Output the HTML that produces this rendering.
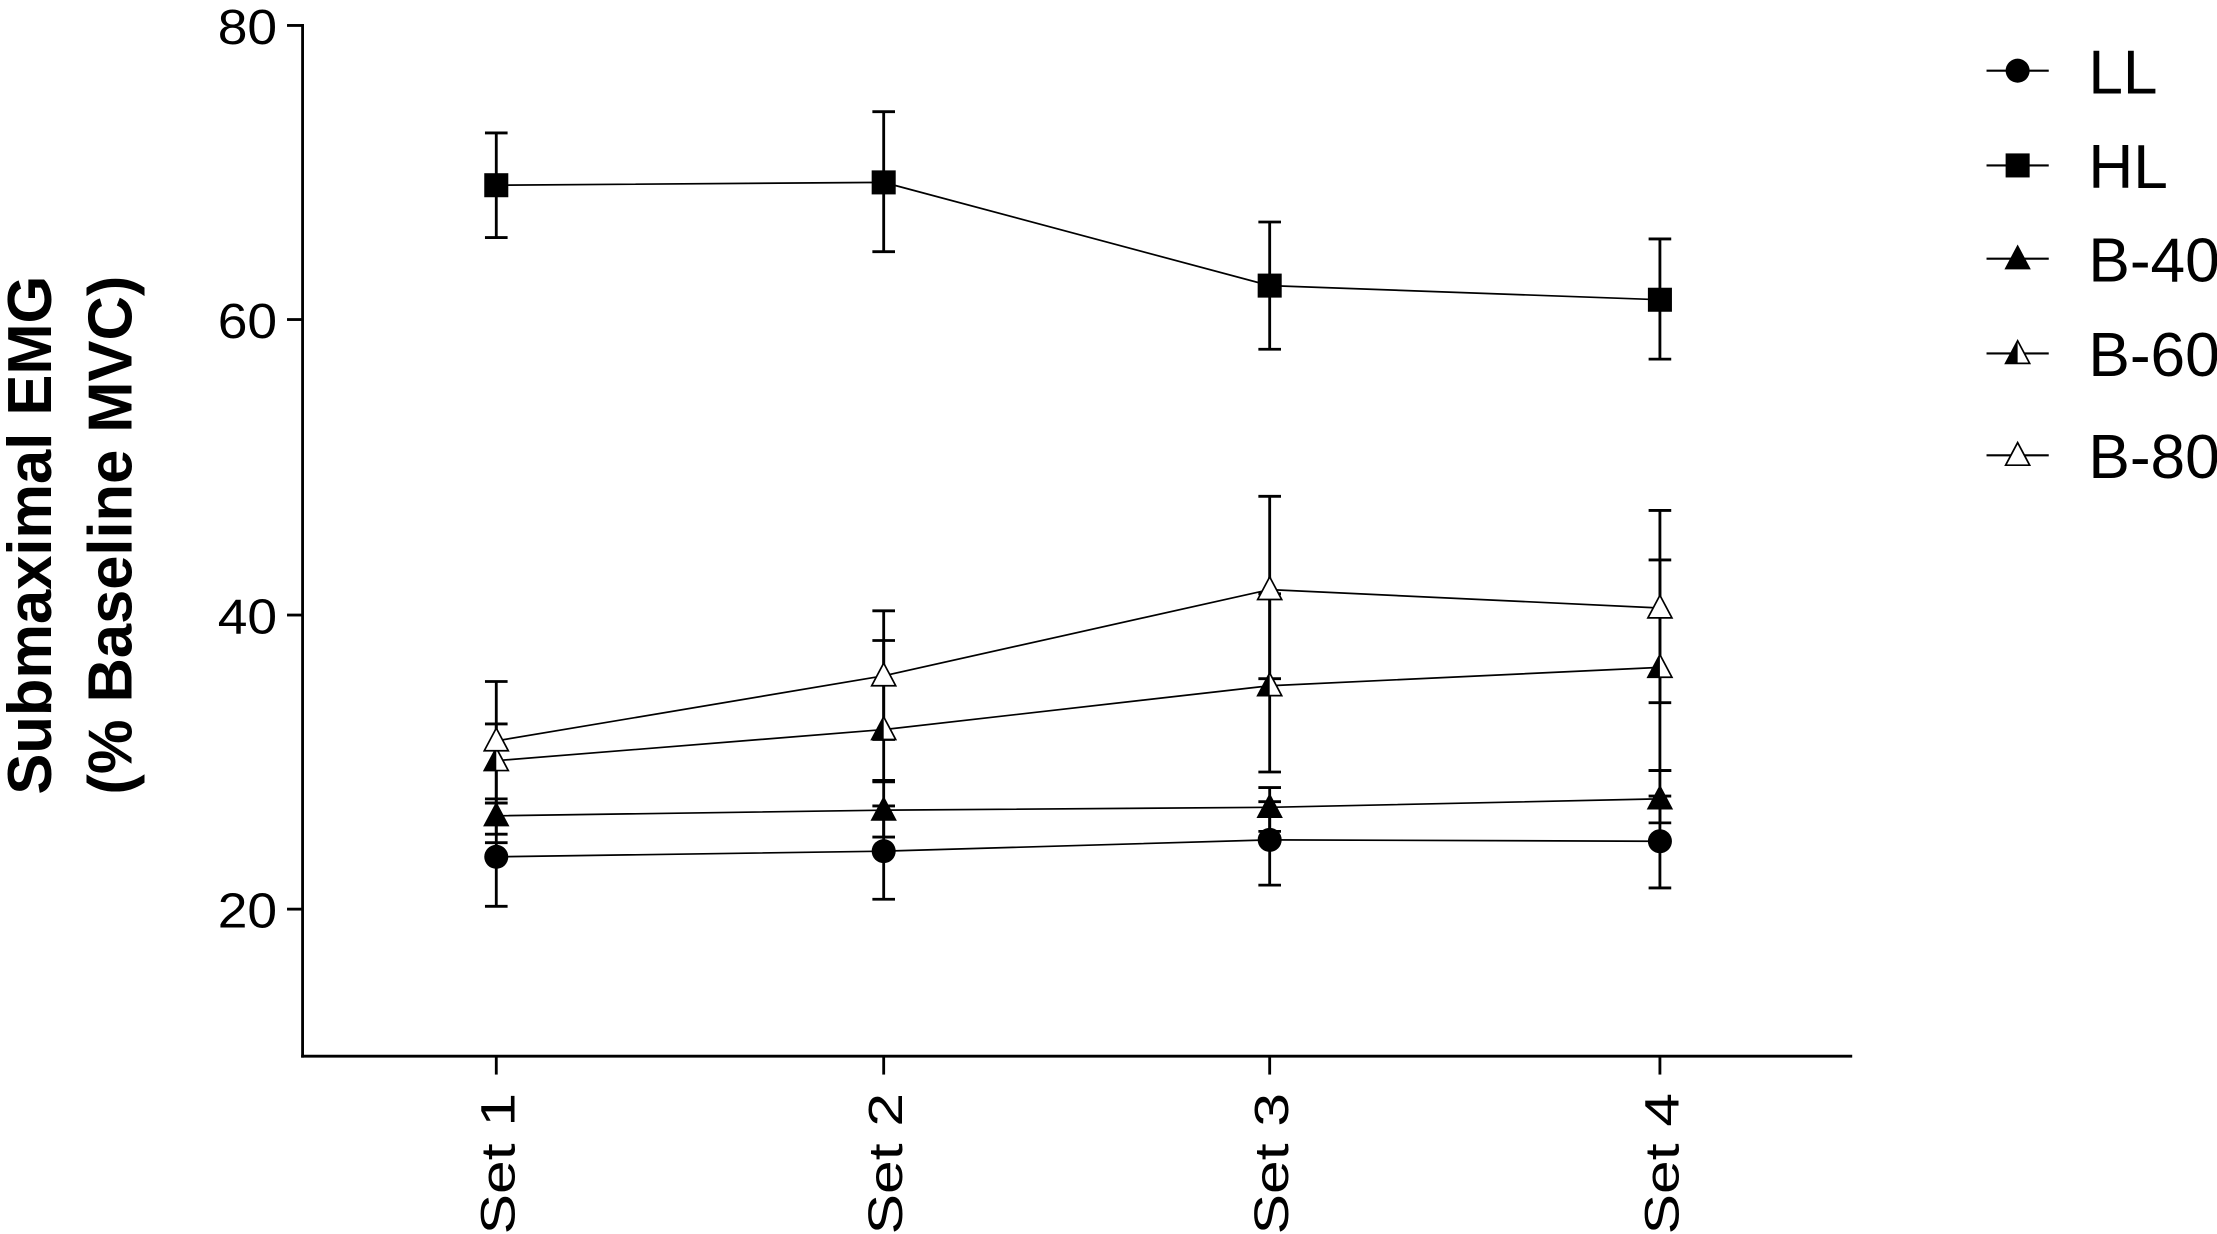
<!DOCTYPE html>
<html><head><meta charset="utf-8"><style>
html,body{margin:0;padding:0;background:#fff;}
svg{display:block;}
text{font-family:"Liberation Sans",Arial,sans-serif;fill:#000;}
</style></head><body>
<svg width="2217" height="1234" viewBox="0 0 2217 1234" xmlns="http://www.w3.org/2000/svg">
<defs>
<g id="circ"><circle r="8.5" fill="#000"/></g>
<g id="sq"><rect x="-8.5" y="-8.5" width="17" height="17" fill="#000"/></g>
<g id="tf"><polygon points="0,-9 8.5,7 -8.5,7" fill="#000" stroke="#000" stroke-width="1"/></g>
<g id="th"><polygon points="0,-9 8.5,7 -8.5,7" fill="#fff" stroke="#000" stroke-width="1.2"/><polygon points="0,-9 0,7 -8.5,7" fill="#000"/></g>
<g id="to"><polygon points="0,-9 8.5,7 -8.5,7" fill="#fff" stroke="#000" stroke-width="1.2"/></g>
</defs>
<g transform="scale(1.41390)">
<g stroke="#000" stroke-width="2" fill="none">
<line x1="214" y1="17" x2="214" y2="748"/>
<line x1="213" y1="747" x2="1310" y2="747"/>
<line x1="203" y1="18" x2="214" y2="18"/>
<line x1="203" y1="226" x2="214" y2="226"/>
<line x1="203" y1="435" x2="214" y2="435"/>
<line x1="203" y1="643" x2="214" y2="643"/>
<line x1="351" y1="747" x2="351" y2="760"/>
<line x1="625" y1="747" x2="625" y2="760"/>
<line x1="898" y1="747" x2="898" y2="760"/>
<line x1="1174" y1="747" x2="1174" y2="760"/>
</g>
<g font-size="35" text-anchor="end">
<text x="196" y="31" textLength="42" lengthAdjust="spacingAndGlyphs">80</text>
<text x="196" y="239" textLength="42" lengthAdjust="spacingAndGlyphs">60</text>
<text x="196" y="448" textLength="42" lengthAdjust="spacingAndGlyphs">40</text>
<text x="196" y="656" textLength="42" lengthAdjust="spacingAndGlyphs">20</text>
</g>
<g font-size="34">
<text transform="translate(364,873) rotate(-90)" textLength="100" lengthAdjust="spacingAndGlyphs">Set 1</text>
<text transform="translate(638,873) rotate(-90)" textLength="100" lengthAdjust="spacingAndGlyphs">Set 2</text>
<text transform="translate(911,873) rotate(-90)" textLength="100" lengthAdjust="spacingAndGlyphs">Set 3</text>
<text transform="translate(1187,873) rotate(-90)" textLength="100" lengthAdjust="spacingAndGlyphs">Set 4</text>
</g>
<g font-size="44" font-weight="bold">
<text transform="translate(36,562) rotate(-90)" textLength="367" lengthAdjust="spacingAndGlyphs">Submaximal EMG</text>
<text transform="translate(93,562) rotate(-90)" textLength="367" lengthAdjust="spacingAndGlyphs">(% Baseline MVC)</text>
</g>
<g stroke="#000" stroke-width="2" fill="none">
<path d="M351,94V168M343,94H359M343,168H359"/>
<path d="M625,79V178M617,79H633M617,178H633"/>
<path d="M898,157V247M890,157H906M890,247H906"/>
<path d="M1174,169V254M1166,169H1182M1166,254H1182"/>
<path d="M351,571V641M343,641H359M343,596H359"/>
<path d="M625,570V636M617,570H633M617,636H633"/>
<path d="M898,567V626M890,567H906M890,626H906"/>
<path d="M1174,563V628M1166,563H1182M1166,628H1182"/>
<path d="M351,565V590M343,568H359M343,590H359"/>
<path d="M625,553V592M617,553H633M617,592H633"/>
<path d="M898,557V588M890,557H906M890,588H906"/>
<path d="M1174,545V582M1166,545H1182M1166,582H1182"/>
<path d="M351,512V565M343,512H359M343,565H359"/>
<path d="M625,453V552M617,453H633M617,552H633"/>
<path d="M898,408V546M890,420H906M890,546H906"/>
<path d="M1174,396V545M1166,396H1182M1166,545H1182"/>
<path d="M351,482V568M343,482H359M343,568H359"/>
<path d="M625,432V523M617,432H633M617,523H633"/>
<path d="M898,351V480M890,351H906M890,480H906"/>
<path d="M1174,361V497M1166,361H1182M1166,497H1182"/>
</g>
<g stroke="#000" stroke-width="1.2" fill="none">
<polyline points="351,131 625,129 898,202 1174,212"/>
<polyline points="351,606 625,602 898,594 1174,595"/>
<polyline points="351,577 625,573 898,571 1174,565"/>
<polyline points="351,538 625,516 898,485 1174,472"/>
<polyline points="351,524 625,478 898,417 1174,430"/>
</g>
<use href="#sq" x="351" y="131"/><use href="#sq" x="625" y="129"/><use href="#sq" x="898" y="202"/><use href="#sq" x="1174" y="212"/>
<use href="#circ" x="351" y="606"/><use href="#circ" x="625" y="602"/><use href="#circ" x="898" y="594"/><use href="#circ" x="1174" y="595"/>
<use href="#tf" x="351" y="577"/><use href="#tf" x="625" y="573"/><use href="#tf" x="898" y="571"/><use href="#tf" x="1174" y="565"/>
<use href="#th" x="351" y="538"/><use href="#th" x="625" y="516"/><use href="#th" x="898" y="485"/><use href="#th" x="1174" y="472"/>
<use href="#to" x="351" y="524"/><use href="#to" x="625" y="478"/><use href="#to" x="898" y="417"/><use href="#to" x="1174" y="430"/>
<g stroke="#000" stroke-width="1.5">
<line x1="1405" y1="50" x2="1449" y2="50"/>
<line x1="1405" y1="117" x2="1449" y2="117"/>
<line x1="1405" y1="183" x2="1449" y2="183"/>
<line x1="1405" y1="250" x2="1449" y2="250"/>
<line x1="1405" y1="322" x2="1449" y2="322"/>
</g>
<use href="#circ" x="1427" y="50"/>
<use href="#sq" x="1427" y="117"/>
<use href="#tf" x="1427" y="183"/>
<use href="#th" x="1427" y="250"/>
<use href="#to" x="1427" y="322"/>
<g font-size="44">
<text x="1477" y="66">LL</text>
<text x="1477" y="133">HL</text>
<text x="1477" y="199">B-40</text>
<text x="1477" y="266">B-60</text>
<text x="1477" y="338">B-80</text>
</g>
</g>
</svg>
</body></html>
